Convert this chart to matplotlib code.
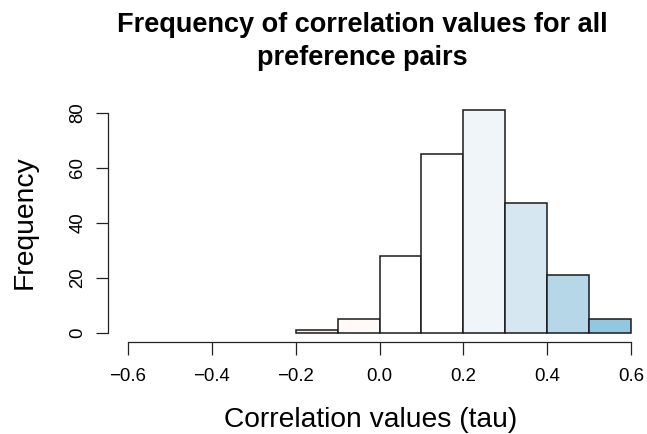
import numpy as np
import matplotlib.pyplot as plt

plt.rcParams['font.family'] = ['Liberation Sans', 'DejaVu Sans']

# histogram of tau values, bins of width 0.1
bin_left = [-0.2, -0.1, 0.0, 0.1, 0.2, 0.3, 0.4, 0.5]
counts = [1, 5, 28, 65, 81, 47, 21, 5]
bin_colors = ['#F9EEEA', '#FFF9F7', '#FFFFFF', '#FFFFFF',
              '#F0F5FA', '#D6E7F1', '#B5D7E7', '#93C6E0']
x_ticks = [-0.6, -0.4, -0.2, 0.0, 0.2, 0.4, 0.6]
y_ticks = [0, 20, 40, 60, 80]

W, H = 647, 434
fig = plt.figure(figsize=(W / 100, H / 100), dpi=100)

# plot region in pixels
left, right, top, bottom = 108, 647, 101, 341.6
ax = fig.add_axes([left / W, (H - bottom) / H, (right - left) / W, (bottom - top) / H])

ax.bar(bin_left, counts, width=0.1, align='edge', color=bin_colors,
       edgecolor='#1a1a1a', linewidth=1.1)

px_per_unit = (631 - 128) / 1.2
ax.set_xlim(-0.6 - (128 - left) / px_per_unit, 0.6 + (right - 631) / px_per_unit)
ax.set_ylim(-3.24, 84.24)

for s in ['top', 'right']:
    ax.spines[s].set_visible(False)
ax.spines['bottom'].set_bounds(-0.6, 0.6)
ax.spines['left'].set_bounds(0, 80)
for s in ['bottom', 'left']:
    ax.spines[s].set_color('#222222')
    ax.spines[s].set_linewidth(0.9)

ax.set_xticks(x_ticks)
ax.set_xticklabels(['\u22120.6', '\u22120.4', '\u22120.2', '0.0', '0.2', '0.4', '0.6'])
ax.set_yticks(y_ticks)
ax.tick_params(axis='both', length=9, width=0.9, color='#222222', labelsize=13.4)
ax.tick_params(axis='x', pad=10)
ax.tick_params(axis='y', pad=6.5, labelrotation=90)
for lab in ax.get_yticklabels():
    lab.set_va('center')

fig.text(371 / W, 1 - 427 / H, 'Correlation values (tau)', ha='center', va='baseline', fontsize=20.3)
fig.text(25 / W, 1 - 222 / H, 'Frequency', ha='center', va='center', rotation=90, fontsize=20.3)
fig.text(362 / W, 1 - 32 / H, 'Frequency of correlation values for all',
         ha='center', va='baseline', fontsize=19.5, fontweight='bold')
fig.text(362 / W, 1 - 65 / H, 'preference pairs',
         ha='center', va='baseline', fontsize=19.5, fontweight='bold')

fig.savefig('out.png', dpi=100)
